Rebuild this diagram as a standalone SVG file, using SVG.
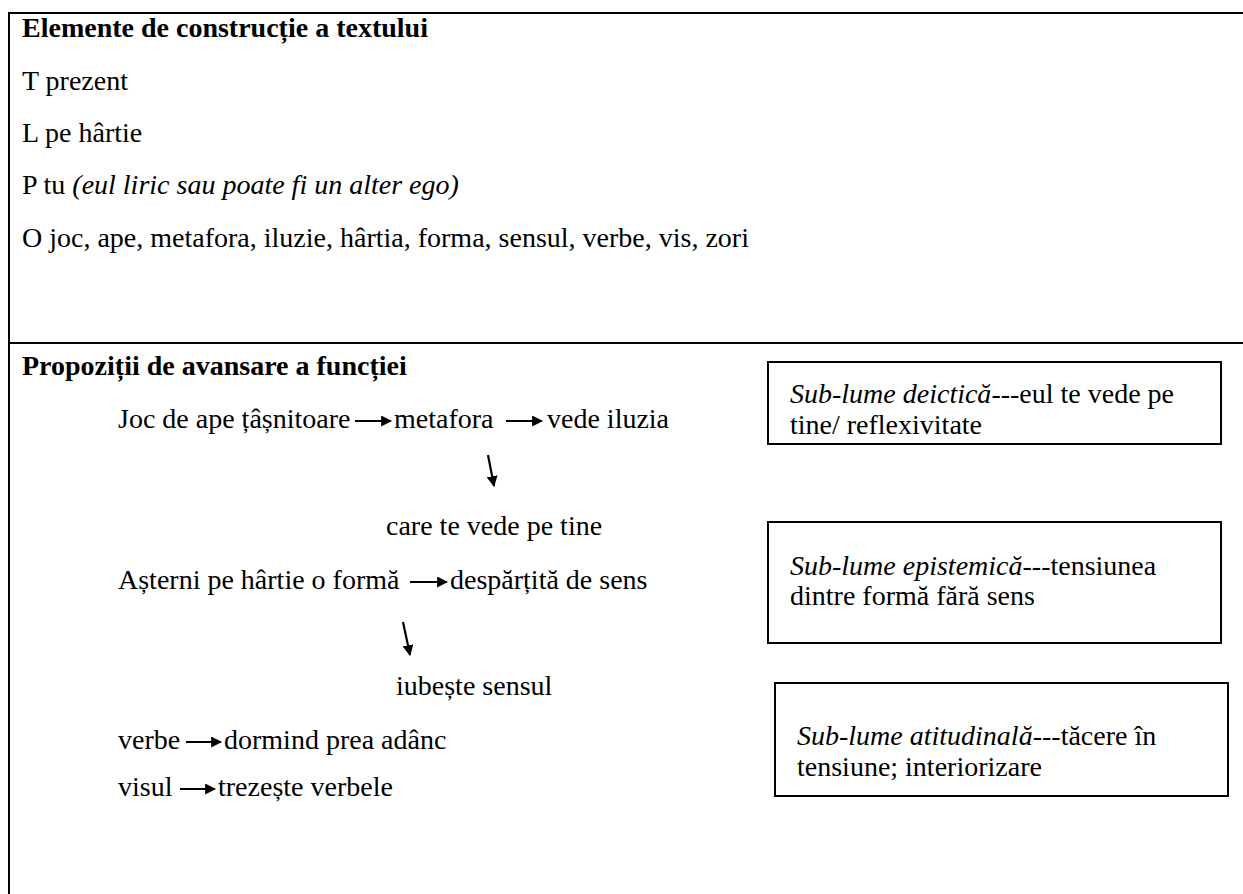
<svg xmlns="http://www.w3.org/2000/svg" width="1243" height="894" viewBox="0 0 1243 894">
<style>
text{font-size:28px;fill:#000}
.frame{stroke:#000;stroke-width:2;fill:none}
.box{stroke:#000;stroke-width:2;fill:#fff}
.arr{stroke:#000;stroke-width:2.2;fill:none;marker-end:url(#ah)}
</style>
<defs>
<marker id="ah" viewBox="0 0 10 10" refX="9" refY="5" markerWidth="5" markerHeight="5" orient="auto" markerUnits="strokeWidth">
<path d="M0,0 L10,5 L0,10 z" fill="#000"/>
</marker>
</defs>
<rect width="1243" height="894" fill="#fff"/>
<g id="frame">
<line class="frame" x1="9" y1="13" x2="1243" y2="13"/>
<line class="frame" x1="9" y1="12" x2="9" y2="894"/>
<line class="frame" x1="9" y1="343" x2="1243" y2="343"/>
</g>
<g id="section1">
<text font-family="Times New Roman" font-weight="bold" x="22" y="37">Elemente de construcție a textului</text>
<text font-family="Times New Roman" x="22" y="90">T prezent</text>
<text font-family="Times New Roman" x="22" y="142">L pe hârtie</text>
<text font-family="Times New Roman" x="22" y="194">P tu <tspan font-style="italic">(eul liric sau poate fi un alter ego)</tspan></text>
<text font-family="Times New Roman" x="22" y="247">O joc, ape, metafora, iluzie, hârtia, forma, sensul, verbe, vis, zori</text>
</g>
<g id="section2-title">
<text font-family="Times New Roman" font-weight="bold" x="22" y="375">Propoziții de avansare a funcției</text>
</g>
<g id="n-joc"><text font-family="Times New Roman" x="118" y="428">Joc de ape țâșnitoare</text></g>
<g id="n-metafora"><text font-family="Times New Roman" x="394" y="428">metafora</text></g>
<g id="n-vede"><text font-family="Times New Roman" x="547" y="428">vede iluzia</text></g>
<g id="n-care"><text font-family="Times New Roman" x="386" y="535">care te vede pe tine</text></g>
<g id="n-asterni"><text font-family="Times New Roman" x="118" y="589">Așterni pe hârtie o formă</text></g>
<g id="n-despartita"><text font-family="Times New Roman" x="450" y="589">despărțită de sens</text></g>
<g id="n-iubeste"><text font-family="Times New Roman" x="396" y="695">iubește sensul</text></g>
<g id="n-verbe"><text font-family="Times New Roman" x="118" y="749">verbe</text></g>
<g id="n-dormind"><text font-family="Times New Roman" x="224" y="749">dormind prea adânc</text></g>
<g id="n-visul"><text font-family="Times New Roman" x="118" y="796">visul</text></g>
<g id="n-trezeste"><text font-family="Times New Roman" x="218" y="796">trezește verbele</text></g>
<g id="box-deictica">
<rect class="box" x="768" y="362" width="453" height="82"/>
<text font-family="Times New Roman" x="790" y="403"><tspan font-style="italic">Sub-lume deictică</tspan>---eul te vede pe</text>
<text font-family="Times New Roman" x="790" y="434">tine/ reflexivitate</text>
</g>
<g id="box-epistemica">
<rect class="box" x="768" y="522" width="453" height="121"/>
<text font-family="Times New Roman" x="790" y="575"><tspan font-style="italic">Sub-lume epistemică</tspan>---tensiunea</text>
<text font-family="Times New Roman" x="790" y="605">dintre formă fără sens</text>
</g>
<g id="box-atitudinala">
<rect class="box" x="775" y="683" width="453" height="113"/>
<text font-family="Times New Roman" x="797" y="745"><tspan font-style="italic">Sub-lume atitudinală</tspan>---tăcere în</text>
<text font-family="Times New Roman" x="797" y="776">tensiune; interiorizare</text>
</g>
<g id="connectors">
<line class="arr" x1="355" y1="421" x2="391" y2="421"/>
<line class="arr" x1="506" y1="421" x2="542" y2="421"/>
<line class="arr" x1="488" y1="455" x2="494" y2="486"/>
<line class="arr" x1="410" y1="582" x2="447" y2="582"/>
<line class="arr" x1="403" y1="622" x2="410" y2="655"/>
<line class="arr" x1="186" y1="742" x2="221" y2="742"/>
<line class="arr" x1="180" y1="789" x2="215" y2="789"/>
</g>
</svg>
